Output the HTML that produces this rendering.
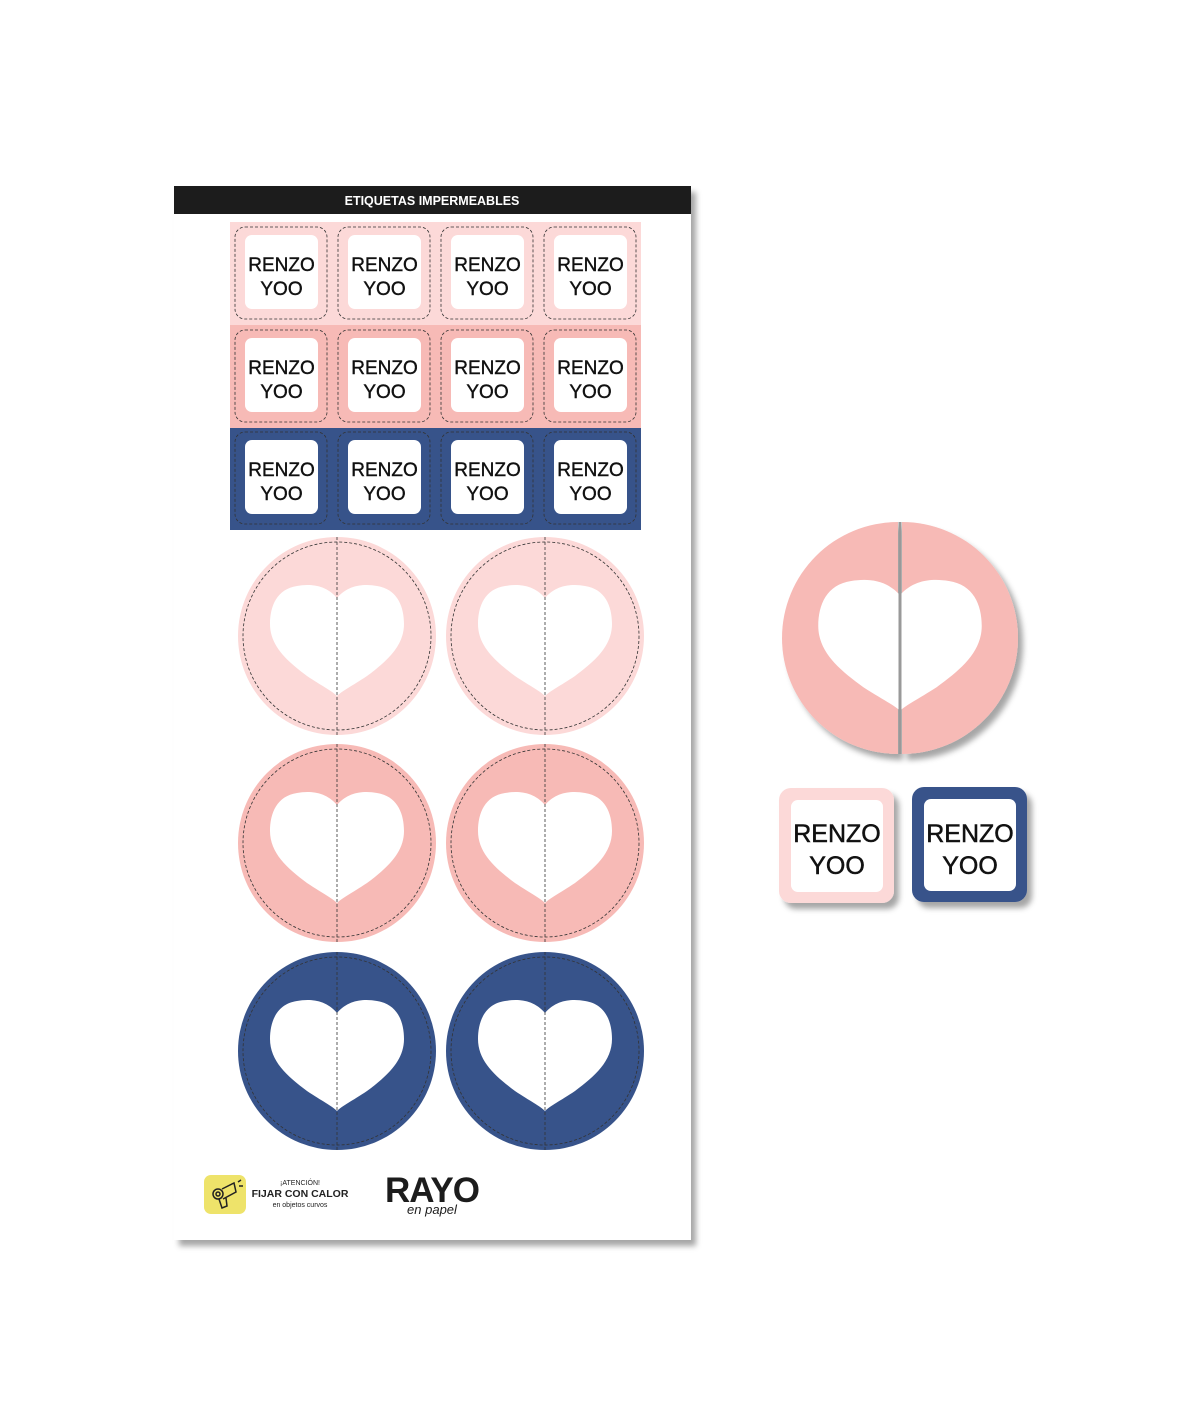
<!DOCTYPE html>
<html><head><meta charset="utf-8"><style>
html,body{margin:0;padding:0;background:#fff;}
svg{display:block;}
text{font-family:"Liberation Sans",sans-serif;}
.t{stroke:#111;stroke-width:0.4;}
</style></head><body>
<svg width="1201" height="1426" viewBox="0 0 1201 1426" xmlns="http://www.w3.org/2000/svg">
<defs>
<filter id="sh" x="-10%" y="-10%" width="130%" height="130%"><feDropShadow dx="5" dy="6" stdDeviation="3" flood-color="#000" flood-opacity="0.35"/></filter>
<path id="heart" d="M0,-38 C-12,-52 -28,-52 -40,-50 C-60,-47 -67,-30 -67,-12 C-67,10 -50,25 -30,40 C-15,50 -5,55 0,60 C5,55 15,50 30,40 C50,25 67,10 67,-12 C67,-30 60,-47 40,-50 C28,-52 12,-52 0,-38Z" fill="#fff"/>
<g id="lab">
<rect x="5" y="5" width="92" height="92" rx="10" fill="none" stroke="#333" stroke-width="0.8" stroke-dasharray="3,2"/>
<rect x="15" y="13" width="73" height="74" rx="7" fill="#fff"/>
<text class="t" x="51.5" y="49" font-size="19" text-anchor="middle" fill="#111">RENZO</text>
<text class="t" x="51.5" y="73" font-size="19" text-anchor="middle" fill="#111">YOO</text>
</g>
<g id="circ">
<circle r="99"/>
<circle r="94" fill="none" stroke="#333" stroke-width="0.8" stroke-dasharray="3,2"/>
<use href="#heart"/>
<line x1="0" y1="-99" x2="0" y2="99" stroke="#333" stroke-width="0.8" stroke-dasharray="3,2"/>
</g>
</defs>
<rect x="174" y="186" width="517" height="1054" fill="#fff" filter="url(#sh)"/>
<rect x="174" y="186" width="517" height="28" fill="#1c1c1c"/>
<text x="432" y="205" font-size="12.5" font-weight="bold" fill="#fff" text-anchor="middle">ETIQUETAS IMPERMEABLES</text>
<rect x="230" y="222" width="411" height="103" fill="#fcd9d8"/>
<rect x="230" y="325" width="411" height="103" fill="#f7bab6"/>
<rect x="230" y="428" width="411" height="102" fill="#37538a"/>
<g transform="translate(230,222)"><use href="#lab"/></g>
<g transform="translate(333,222)"><use href="#lab"/></g>
<g transform="translate(436,222)"><use href="#lab"/></g>
<g transform="translate(539,222)"><use href="#lab"/></g>
<g transform="translate(230,325)"><use href="#lab"/></g>
<g transform="translate(333,325)"><use href="#lab"/></g>
<g transform="translate(436,325)"><use href="#lab"/></g>
<g transform="translate(539,325)"><use href="#lab"/></g>
<g transform="translate(230,427)"><use href="#lab"/></g>
<g transform="translate(333,427)"><use href="#lab"/></g>
<g transform="translate(436,427)"><use href="#lab"/></g>
<g transform="translate(539,427)"><use href="#lab"/></g>
<g fill="#fcd9d8"><g transform="translate(337,636)"><use href="#circ"/></g><g transform="translate(545,636)"><use href="#circ"/></g></g>
<g fill="#f7bab6"><g transform="translate(337,843)"><use href="#circ"/></g><g transform="translate(545,843)"><use href="#circ"/></g></g>
<g fill="#37538a"><g transform="translate(337,1051)"><use href="#circ"/></g><g transform="translate(545,1051)"><use href="#circ"/></g></g>
<rect x="204" y="1175" width="42" height="39" rx="7" fill="#eee36a"/>
<g fill="none" stroke="#222" stroke-width="1.5"><circle cx="218" cy="1194" r="5"/><circle cx="218" cy="1194" r="2"/><path d="M222,1189 L234,1183 L236,1192 L223,1199"/><path d="M219,1199 L222,1208 L227,1206 L226,1198"/><path d="M238,1182 l3,-2 M239,1186 l4,0"/></g>
<text x="300" y="1185" font-size="7" text-anchor="middle" fill="#222">¡ATENCIÓN!</text>
<text x="300" y="1197" font-size="10.5" font-weight="bold" text-anchor="middle" fill="#222">FIJAR CON CALOR</text>
<text x="300" y="1207" font-size="7" text-anchor="middle" fill="#222">en objetos curvos</text>
<text x="432" y="1202" font-size="35" font-weight="bold" text-anchor="middle" fill="#1c1c1c" letter-spacing="-1">RAYO</text>
<text x="432" y="1214" font-size="13" font-style="italic" text-anchor="middle" fill="#1c1c1c">en papel</text>
<g filter="url(#sh)">
<path d="M898,522 A116,116 0 0 0 898,754 Z" fill="#f7bab6"/>
<path d="M902,522 A116,116 0 0 1 902,754 Z" fill="#f7bab6"/>
</g>
<g transform="translate(900,640) scale(1.22,1.18)"><use href="#heart"/></g>
<line x1="900" y1="522" x2="900" y2="754" stroke="#999" stroke-width="3"/>
<rect x="779" y="788" width="115" height="115" rx="12" fill="#fcd9d8" filter="url(#sh)"/>
<rect x="791" y="800" width="92" height="92" rx="7" fill="#fff"/>
<text x="837" y="842" font-size="25" text-anchor="middle" fill="#111" stroke="#111" stroke-width="0.5">RENZO</text>
<text x="837" y="874" font-size="25" text-anchor="middle" fill="#111" stroke="#111" stroke-width="0.5">YOO</text>
<rect x="912" y="787" width="115" height="115" rx="12" fill="#37538a" filter="url(#sh)"/>
<rect x="924" y="799" width="92" height="92" rx="7" fill="#fff"/>
<text x="970" y="842" font-size="25" text-anchor="middle" fill="#111" stroke="#111" stroke-width="0.5">RENZO</text>
<text x="970" y="874" font-size="25" text-anchor="middle" fill="#111" stroke="#111" stroke-width="0.5">YOO</text>
</svg>
</body></html>
